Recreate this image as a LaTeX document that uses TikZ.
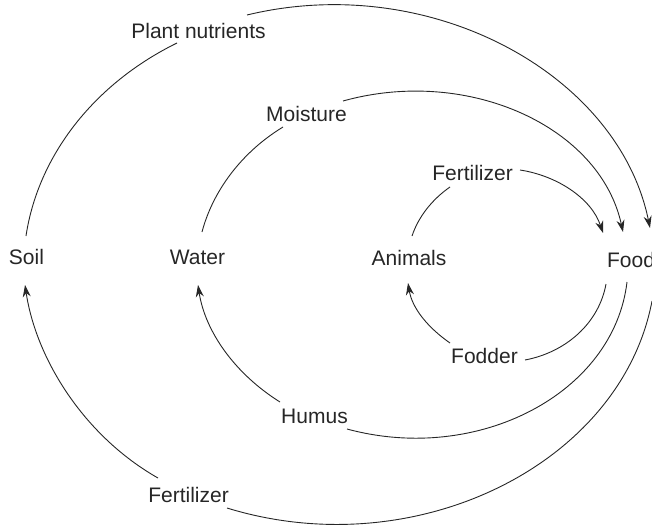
\documentclass[tikz,border=0pt]{standalone}
\usepackage{fontspec}
\setmainfont{Liberation Sans}
\usetikzlibrary{arrows.meta}
\begin{document}
\begin{tikzpicture}[x=1pt,y=1pt,
  lbl/.style={font=\fontsize{21}{25}\selectfont, inner sep=0pt, anchor=base, text=black!85},
  con/.style={line width=0.9pt, black!85},
  arr/.style={con, -{Stealth[length=12pt,width=8pt]}}]
\useasboundingbox (0,0) rectangle (652,-527);
% labels
\node[lbl] (pn)     at (198.5,-39)  {Plant nutrients};
\node[lbl] (soil)   at (26.5,-264)  {Soil};
\node[lbl] (water)  at (197.5,-264) {Water};
\node[lbl] (animals) at (409,-265)  {Animals};
\node[lbl] (food)   at (631,-267)   {Food};
\node[lbl] (moist)  at (306.5,-121) {Moisture};
\node[lbl] (fertA)  at (472.5,-180) {Fertilizer};
\node[lbl] (fodder) at (484.5,-363) {Fodder};
\node[lbl] (humus)  at (314.5,-423) {Humus};
\node[lbl] (fertB)  at (188.5,-502) {Fertilizer};
% outer cycle
\draw[con] ([shift={(-0.5,28)}]soil.base) .. controls +(11.9,79.4) and +(-83.9,-41.2) .. ([shift={(-21.5,-4)}]pn.base);
\draw[arr] ([shift={(48.5,24)}]pn.base) .. controls +(183.2,44.3) and +(-31.5,154.0) .. ([shift={(19,39)}]food.base);
\draw[con] ([shift={(21,-34)}]food.base) .. controls +(-30.9,-163.0) and +(188.9,-58.1) .. ([shift={(38.5,-6)}]fertB.base);
\draw[arr] ([shift={(-30.5,24)}]fertB.base) .. controls +(-74.3,42.2) and +(11.0,-73.5) .. ([shift={(-1.5,-21)}]soil.base);
% middle cycle
\draw[con] ([shift={(4.5,32)}]water.base) .. controls +(10.8,41.0) and +(-41.4,-25.2) .. ([shift={(-23.5,-6)}]moist.base);
\draw[arr] ([shift={(36.5,20)}]moist.base) .. controls +(125.0,34.8) and +(-22.9,105.4) .. ([shift={(-8,35)}]food.base);
\draw[con] ([shift={(-4,-15)}]food.base) .. controls +(-13.2,-111.4) and +(131.1,-35.5) .. ([shift={(32.5,-6)}]humus.base);
\draw[arr] ([shift={(-34.5,21)}]humus.base) .. controls +(-45.4,28.4) and +(7.0,-46.1) .. ([shift={(0.5,-21)}]water.base);
% inner cycle
\draw[con] ([shift={(3,29)}]animals.base) .. controls +(6.6,19.8) and +(-17.4,-12.1) .. ([shift={(-22.5,-7)}]fertA.base);
\draw[arr] ([shift={(47.5,10)}]fertA.base) .. controls +(37.1,-5.7) and +(-11.6,34.7) .. ([shift={(-28,34)}]food.base);
\draw[con] ([shift={(-25,-17)}]food.base) .. controls +(-7.2,-39.5) and +(40.7,7.7) .. ([shift={(40.5,3)}]fodder.base);
\draw[arr] ([shift={(-34.5,20)}]fodder.base) .. controls +(-21.7,15.1) and +(4.2,-25.6) .. ([shift={(-1,-18)}]animals.base);
\end{tikzpicture}
\end{document}
